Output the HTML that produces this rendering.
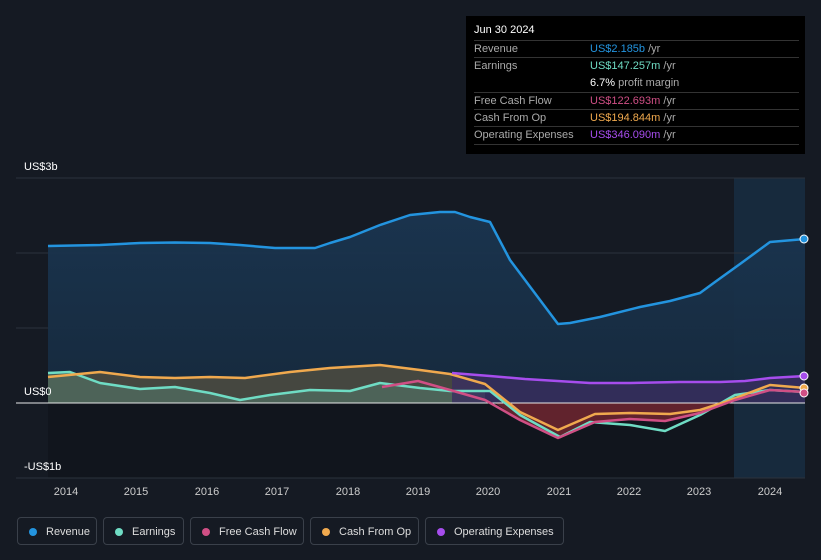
<!DOCTYPE html>
<html><head><style>
body{margin:0;background:#151a23;font-family:"Liberation Sans",sans-serif;}
#w{position:relative;width:821px;height:560px;overflow:hidden;background:#151a23}
.tt{position:absolute;left:466px;top:16px;width:339px;height:138px;background:#000;color:#fff;font-size:11px}
.tt .r{position:absolute;left:8px;width:325px;border-top:1px solid #333;height:17px;line-height:17px}
.tt .l{position:absolute;left:0;color:#aaa}
.tt .v{position:absolute;left:116px}
.lg{position:absolute;top:517px;height:28px;border:1px solid #3a404a;border-radius:4px;color:#ddd;font-size:11px;line-height:28px;box-sizing:border-box;padding-left:28px}
.lg i{position:absolute;left:11px;top:10px;width:8px;height:8px;border-radius:50%}
</style></head><body><div id="w">
<svg width="821" height="560" style="position:absolute;left:0;top:0">
<defs><linearGradient id="g" x1="0" y1="0" x2="0" y2="1"><stop offset="0" stop-color="#1a3550"/><stop offset="1" stop-color="#162a3e"/></linearGradient></defs>
<rect x="48" y="403" width="686" height="75" fill="#11151d"/>
<rect x="734" y="178" width="71" height="300" fill="#172a3d"/>
<line x1="16" y1="178" x2="805" y2="178" stroke="#2c323c"/>
<line x1="16" y1="253" x2="805" y2="253" stroke="#2c323c"/>
<line x1="16" y1="328" x2="805" y2="328" stroke="#2c323c"/>
<line x1="16" y1="478" x2="805" y2="478" stroke="#2c323c"/>
<path d="M48,246 L100,245 140,243 175,242.5 210,243 240,245 275,248 315,248 330,243 350,237 380,225 410,215 440,212 455,212 470,217 490,222 510,260 540,300 558,324 570,323 600,317 640,307 670,301 700,293 715,282 740,264 770,242 805,239 L805,403 L48,403Z" fill="url(#g)" opacity="0.95"/>
<path d="M48,377 L100,372 140,377 175,378 210,377 245,378 290,372 330,368 380,365 420,370 450,374 485,384 L485,403 48,403Z" fill="#4a4a40" opacity="0.9"/>
<path d="M48,373 L70,372 100,383 140,389 175,387 210,393 240,400 270,395 310,390 350,391 380,383 420,388 450,391 485,391 L485,403 48,403Z" fill="#4f6a5e" opacity="0.8"/>
<path d="M452,373 L490,376 525,379 590,383 630,383 680,382 720,382 745,381 770,378 805,376 L805,403 452,403Z" fill="#3a2e60" opacity="0.8"/>
<path d="M495,403 L520,420 558,438 595,422 630,419 665,421 700,413 720,403Z" fill="#6a2530" opacity="0.9"/>
<line x1="16" y1="403" x2="805" y2="403" stroke="#e8e8e8" stroke-width="1"/>
<g fill="none" stroke-width="2.5" stroke-linejoin="round">
<path d="M48,246 L100,245 140,243 175,242.5 210,243 240,245 275,248 315,248 330,243 350,237 380,225 410,215 440,212 455,212 470,217 490,222 510,260 540,300 558,324 570,323 600,317 640,307 670,301 700,293 715,282 740,264 770,242 805,239" stroke="#2394df"/>
<path d="M48,373 L70,372 100,383 140,389 175,387 210,393 240,400 270,395 310,390 350,391 380,383 420,388 450,391 490,391 520,415 560,437 590,422 630,425 665,431 700,415 735,395 770,390 805,392" stroke="#6fdcc4"/>
<path d="M48,377 L100,372 140,377 175,378 210,377 245,378 290,372 330,368 380,365 420,370 450,374 485,384 520,412 558,430 595,414 630,413 670,414 700,410 725,402 770,385 805,388" stroke="#f0a94e"/>
<path d="M382,387 L418,381 450,390 485,400 520,420 558,438 595,422 630,419 665,421 700,413 735,400 770,390 805,392" stroke="#d04f85"/>
<path d="M452,373 L490,376 525,379 590,383 630,383 680,382 720,382 745,381 770,378 805,376" stroke="#a64ded"/>
</g>
<circle cx="804" cy="239" r="4" fill="#2394df" stroke="#fff"/>
<circle cx="804" cy="376" r="4" fill="#a64ded" stroke="#fff"/>
<circle cx="804" cy="388" r="4" fill="#f0a94e" stroke="#fff"/>
<circle cx="804" cy="393" r="4" fill="#d04f85" stroke="#fff"/>
<g fill="#fff" font-size="11" font-family="Liberation Sans,sans-serif">
<text x="24" y="170">US$3b</text><text x="24" y="395">US$0</text><text x="24" y="470">-US$1b</text>
</g>
<g fill="#ccc" font-size="11" font-family="Liberation Sans,sans-serif" text-anchor="middle">
<text x="66" y="495">2014</text><text x="136" y="495">2015</text><text x="207" y="495">2016</text><text x="277" y="495">2017</text><text x="348" y="495">2018</text><text x="418" y="495">2019</text><text x="488" y="495">2020</text><text x="559" y="495">2021</text><text x="629" y="495">2022</text><text x="699" y="495">2023</text><text x="770" y="495">2024</text>
</g>
</svg>
<div class="tt">
<div style="position:absolute;left:8px;top:8px;font-size:11px">Jun 30 2024</div>
<div class="r" style="top:24px"><span class="l">Revenue</span><span class="v"><b style="font-weight:normal;color:#2394df">US$2.185b</b> <span style="color:#aaa">/yr</span></span></div>
<div class="r" style="top:41px"><span class="l">Earnings</span><span class="v"><span style="color:#6fdcc4">US$147.257m</span> <span style="color:#aaa">/yr</span></span></div>
<div style="position:absolute;left:124px;top:59px;line-height:17px">6.7% <span style="color:#aaa">profit margin</span></div>
<div class="r" style="top:76px"><span class="l">Free Cash Flow</span><span class="v"><span style="color:#d04f85">US$122.693m</span> <span style="color:#aaa">/yr</span></span></div>
<div class="r" style="top:93px"><span class="l">Cash From Op</span><span class="v"><span style="color:#f0a94e">US$194.844m</span> <span style="color:#aaa">/yr</span></span></div>
<div class="r" style="top:110px;border-bottom:1px solid #333"><span class="l">Operating Expenses</span><span class="v"><span style="color:#a64ded">US$346.090m</span> <span style="color:#aaa">/yr</span></span></div>
</div>
<div class="lg" style="left:17px;width:80px"><i style="background:#2394df"></i>Revenue</div>
<div class="lg" style="left:103px;width:81px"><i style="background:#6fdcc4"></i>Earnings</div>
<div class="lg" style="left:190px;width:114px"><i style="background:#d04f85"></i>Free Cash Flow</div>
<div class="lg" style="left:310px;width:109px"><i style="background:#f0a94e"></i>Cash From Op</div>
<div class="lg" style="left:425px;width:139px"><i style="background:#a64ded"></i>Operating Expenses</div>
</div></body></html>
